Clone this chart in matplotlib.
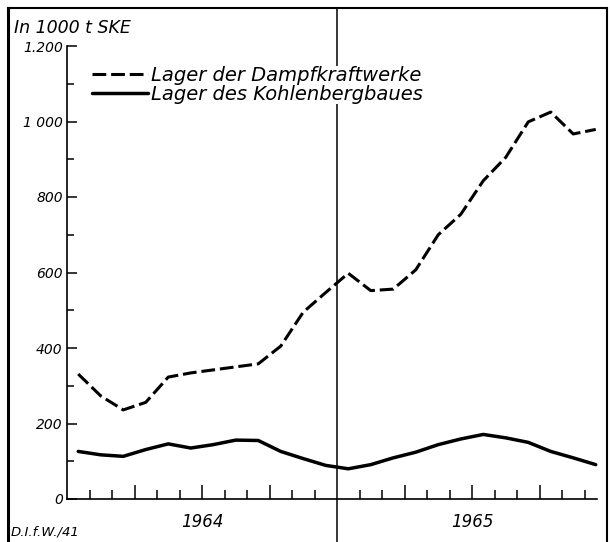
import matplotlib.pyplot as plt
from matplotlib.lines import Line2D
import numpy as np

# monthly values, Jan 1964 .. Dec 1965, in 1000 t SKE
months = np.arange(24) + 0.5
dampf = [331, 273, 236, 256, 323, 334, 342, 350, 358, 405, 495, 547,
         598, 552, 556, 607, 700, 754, 843, 905, 999, 1025, 967, 979]
kohle = [126, 117, 113, 131, 146, 135, 144, 156, 155, 126, 107, 89,
         80, 91, 109, 124, 144, 159, 171, 162, 150, 126, 109, 91]
years = ['1964', '1965']
ytick_vals = [0, 200, 400, 600, 800, 1000, 1200]
ytick_labels = ['0', '200', '400', '600', '800', '1 000', '1.200']

plt.rcParams['font.family'] = ['DejaVu Sans']
plt.rcParams['font.style'] = 'italic'

W, H = 610, 542
fig = plt.figure(figsize=(W / 100, H / 100), dpi=100)
ax = fig.add_axes([67 / W, 43 / H, 540 / W, 453 / H])

ax.plot(months, dampf, color='black', lw=2.2, dashes=(4.5, 1.6),
        label='Lager der Dampfkraftwerke')
ax.plot(months, kohle, color='black', lw=2.5, solid_capstyle='round',
        label='Lager des Kohlenbergbaues')

# year divider, running from the frame top to the bottom edge
ax.axvline(12, ymin=-43 / 453, ymax=(453 + 38) / 453, color='black',
           lw=1.1, clip_on=False, zorder=1)

ax.set_xlim(0, 24)
ax.set_ylim(0, 1200)
for s in ['top', 'right']:
    ax.spines[s].set_visible(False)
ax.spines['left'].set_linewidth(1.2)
ax.spines['bottom'].set_linewidth(1.2)
ax.spines['bottom'].set_bounds(0, 23.55)

ax.set_yticks(ytick_vals)
ax.set_yticklabels(ytick_labels)
ax.set_yticks(np.arange(100, 1200, 200), minor=True)
ax.tick_params(axis='y', which='major', direction='in', length=7, width=1.1,
               pad=3, labelsize=10)
ax.tick_params(axis='y', which='minor', direction='in', length=5, width=1.1)

ax.set_xticks([3, 6, 9, 15, 18, 21])
ax.set_xticks([m for m in range(1, 24) if m % 3 != 0], minor=True)
ax.tick_params(axis='x', which='major', direction='in', length=10, width=1.1,
               labelbottom=False)
ax.tick_params(axis='x', which='minor', direction='in', length=6.5, width=1.1)

for i, yr in enumerate(years):
    ax.text(6 + 12 * i, -0.05, yr, transform=ax.get_xaxis_transform(),
            ha='center', va='center', fontsize=12)

leg = ax.legend(loc='upper left', bbox_to_anchor=(92 / W, 1 - 66 / H),
                bbox_transform=fig.transFigure, frameon=True, fontsize=14,
                handlelength=2.9, handletextpad=0.15, labelspacing=0.0,
                borderpad=0, borderaxespad=0, fancybox=False,
                edgecolor='none', facecolor='white', framealpha=1)
leg.set_zorder(5)

fig.text(14 / W, 1 - 28 / H, 'In 1000 t SKE', fontsize=12.5, va='center')
fig.text(11 / W, 1 - 532 / H, 'D.I.f.W./41', fontsize=9.5, va='center')

# outer frame
fig.add_artist(Line2D([8 / W, 8 / W], [0, 1 - 8 / H], color='black', lw=2.2))
fig.add_artist(Line2D([8 / W, 607 / W], [1 - 8 / H, 1 - 8 / H], color='black', lw=1.5))
fig.add_artist(Line2D([607 / W, 607 / W], [0, 1 - 8 / H], color='black', lw=1.5))

fig.savefig('out.png', dpi=100)
